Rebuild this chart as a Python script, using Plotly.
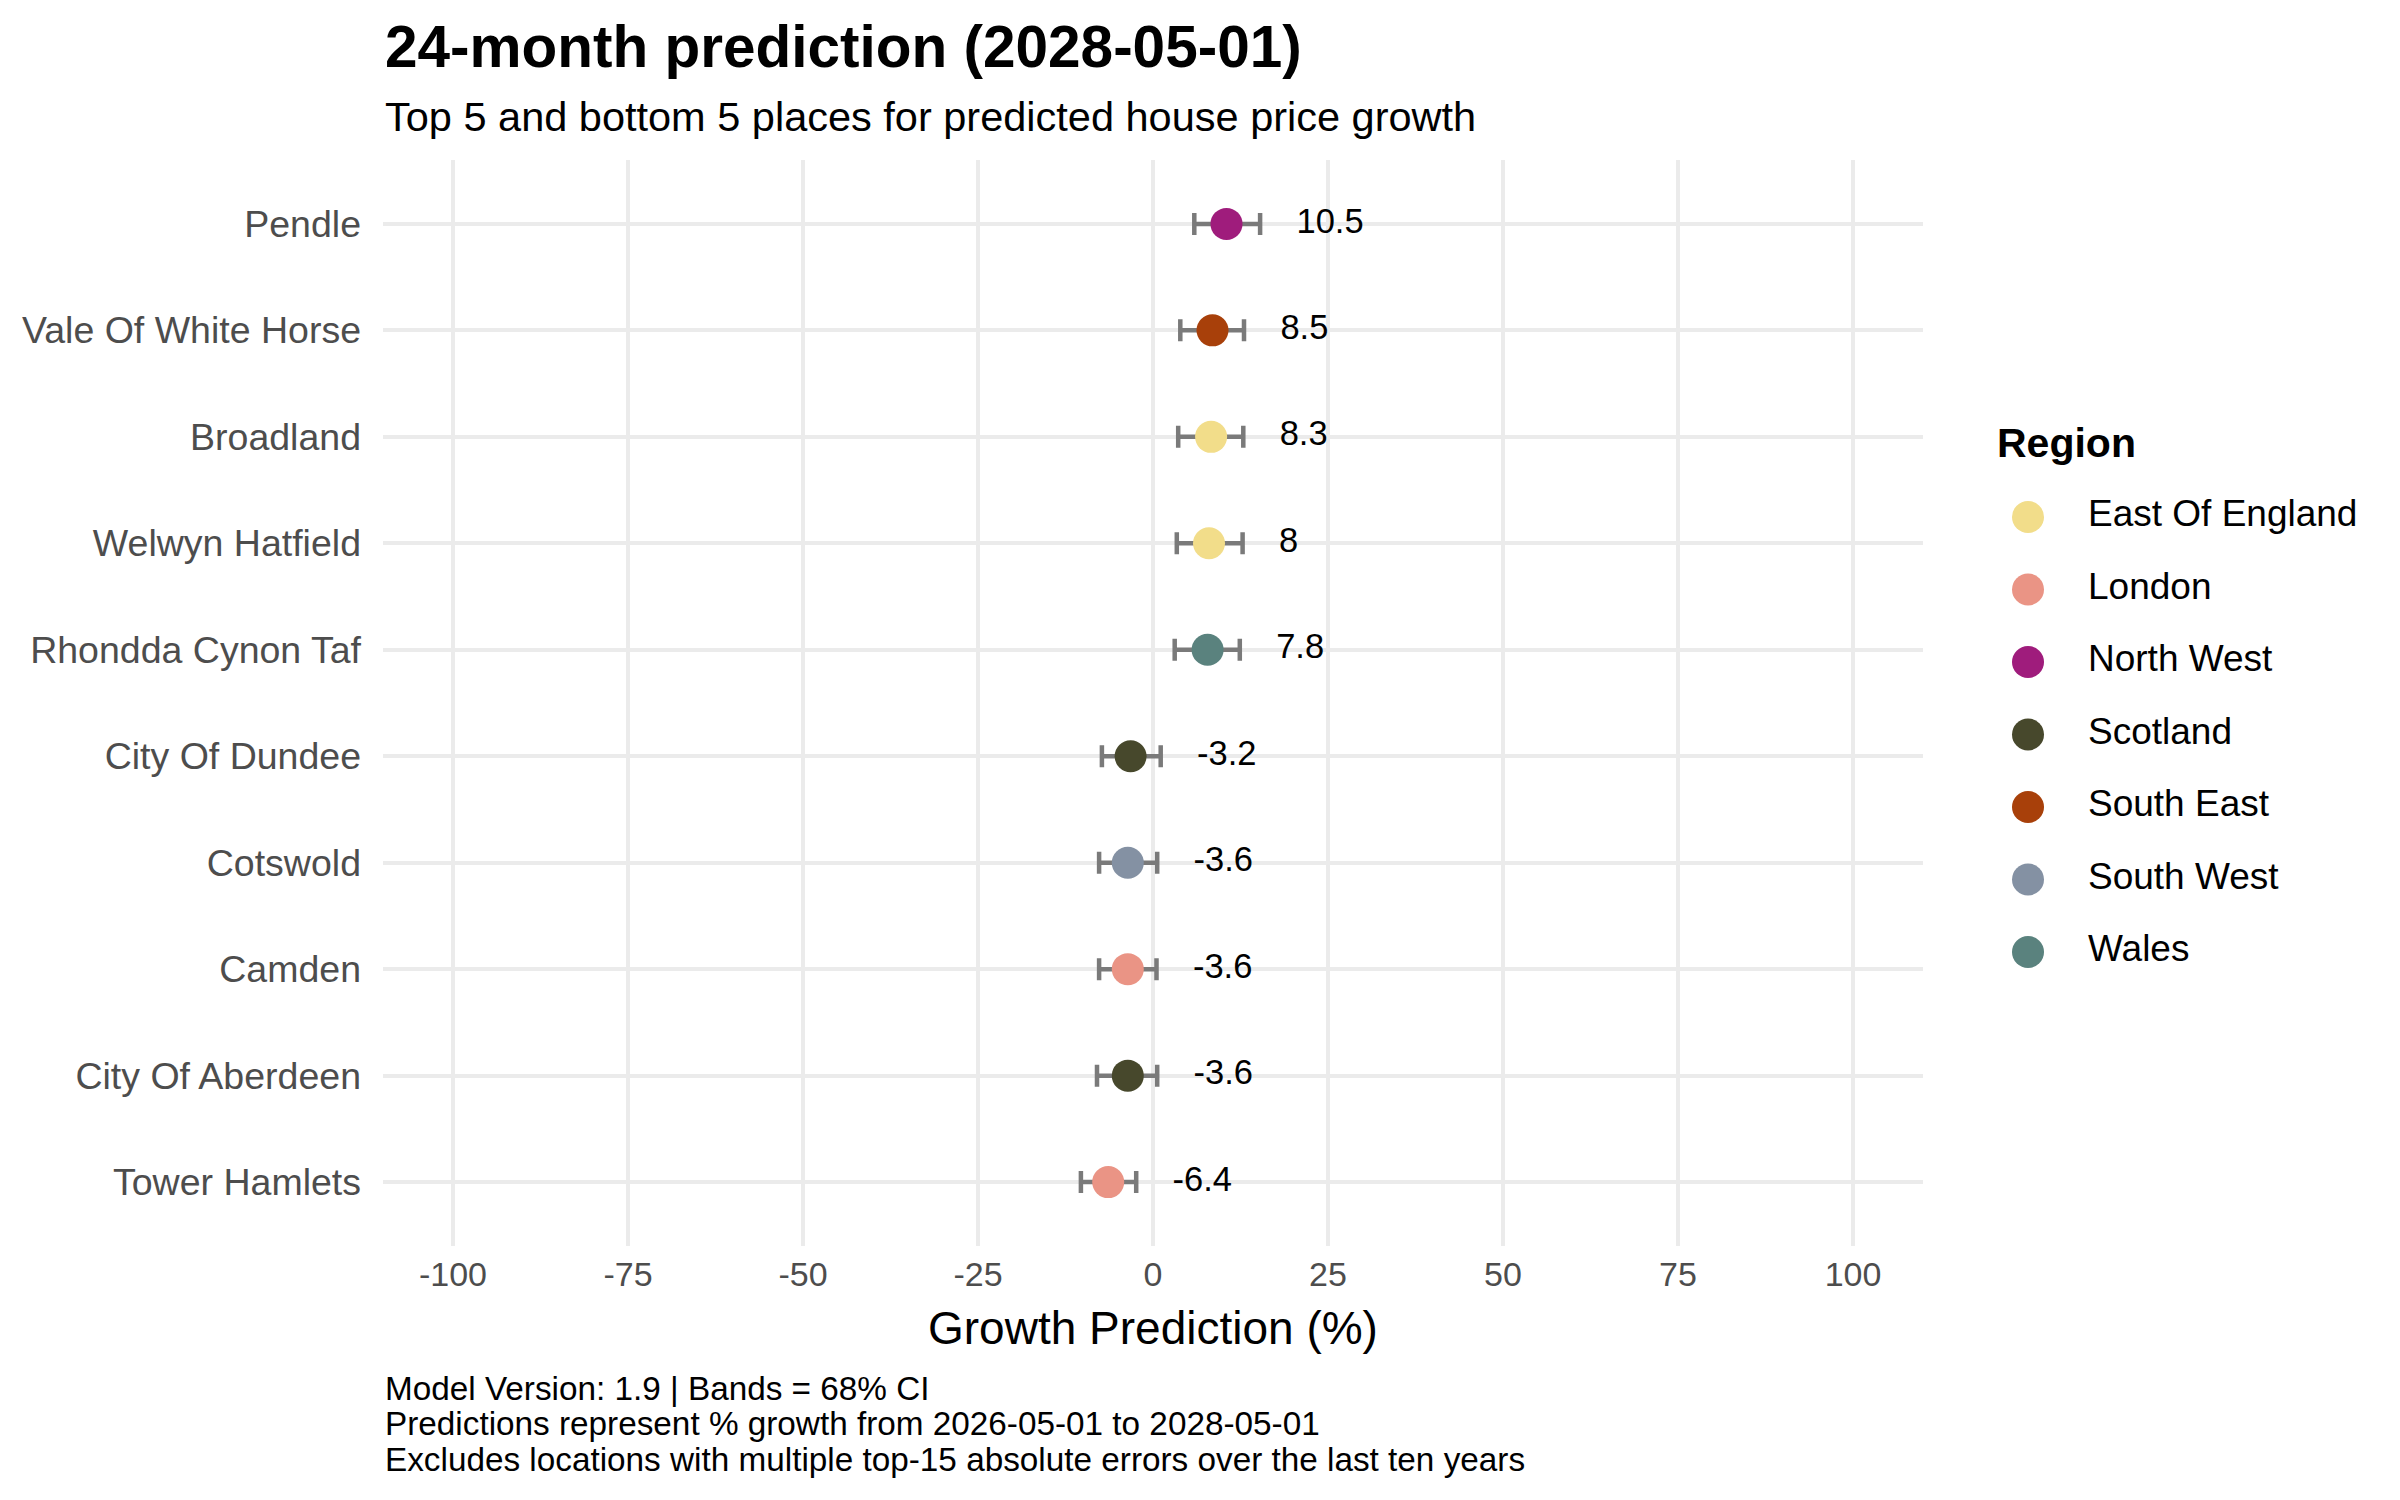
import plotly.graph_objects as go

# Data
places = ["Pendle", "Vale Of White Horse", "Broadland", "Welwyn Hatfield", "Rhondda Cynon Taf",
          "City Of Dundee", "Cotswold", "Camden", "City Of Aberdeen", "Tower Hamlets"]
regions = ["North West", "South East", "East Of England", "East Of England", "Wales",
           "Scotland", "South West", "London", "Scotland", "London"]
growth = [10.5, 8.5, 8.3, 8.0, 7.8, -3.2, -3.6, -3.6, -3.6, -6.4]
lower = [5.9, 3.9, 3.6, 3.4, 3.1, -7.3, -7.7, -7.7, -8.0, -10.3]
upper = [15.3, 13.0, 12.9, 12.8, 12.4, 1.1, 0.6, 0.5, 0.6, -2.4]

region_names = ["East Of England", "London", "North West", "Scotland", "South East", "South West", "Wales"]
region_colors = ["#F2DD8A", "#EA9485", "#9F1C7C", "#47482C", "#A8400A", "#8491A3", "#5A827E"]

x_ticks = [-100, -75, -50, -25, 0, 25, 50, 75, 100]

title = "24-month prediction (2028-05-01)"
subtitle = "Top 5 and bottom 5 places for predicted house price growth"
caption = ["Model Version: 1.9 | Bands = 68% CI",
           "Predictions represent % growth from 2026-05-01 to 2028-05-01",
           "Excludes locations with multiple top-15 absolute errors over the last ten years"]

# Page geometry (px); the page body adds an 8px margin, so shift everything by it
OFF = 8
W, H = 2400 - OFF, 1500 - OFF
L, R, T, B = 383 - OFF, 40, 160 - OFF, 254
PW = W - L - R
PH = H - T - B
FONT = "Liberation Sans, Arial, sans-serif"


def fx(px):
    return (px - OFF - L) / PW


def fy(py):
    return (H - B - (py - OFF)) / PH


color_of = dict(zip(region_names, region_colors))

fig = go.Figure()

# error bars (drawn first so the points sit on top)
fig.add_trace(go.Scatter(
    x=growth, y=places, mode="markers",
    marker=dict(size=1, color="rgba(0,0,0,0)"),
    error_x=dict(type="data", symmetric=False,
                 array=[u - g for u, g in zip(upper, growth)],
                 arrayminus=[g - lo for g, lo in zip(growth, lower)],
                 color="#7A7A7A", thickness=4.5, width=11),
    showlegend=False, hoverinfo="skip",
))

# points, one trace per region
for name in region_names:
    idx = [i for i, r in enumerate(regions) if r == name]
    fig.add_trace(go.Scatter(
        x=[growth[i] for i in idx], y=[places[i] for i in idx],
        mode="markers", name=name,
        marker=dict(size=32, color=color_of[name]),
        showlegend=False,
    ))

# value labels to the right of each band
fig.add_trace(go.Scatter(
    x=[u + 5.2 for u in upper], y=places, mode="text",
    text=[f"{g:g}" for g in growth], textposition="middle right",
    textfont=dict(family=FONT, size=34.5, color="black"),
    showlegend=False, hoverinfo="skip",
))

# hand-made legend on its own little axis (plotly caps legend marker size)
fig.add_trace(go.Scatter(
    x=[0] * len(region_names), y=list(range(len(region_names))),
    mode="markers", marker=dict(size=32, color=region_colors),
    xaxis="x2", yaxis="y2", showlegend=False, hoverinfo="skip",
))
fig.add_trace(go.Scatter(
    x=[1] * len(region_names), y=list(range(len(region_names))),
    mode="text", text=region_names, textposition="middle right",
    textfont=dict(family=FONT, size=37, color="black"),
    xaxis="x2", yaxis="y2", showlegend=False, hoverinfo="skip",
))

leg_x0 = 1990
leg_x1 = W - R + OFF
fig.update_layout(
    width=W, height=H,
    margin=dict(l=L, r=R, t=T, b=B),
    plot_bgcolor="white", paper_bgcolor="white",
    font=dict(family=FONT, color="black"),
    showlegend=False,
    xaxis=dict(
        domain=[0, 1540 / PW], range=[-110, 110],
        tickvals=x_ticks, ticktext=[str(v) for v in x_ticks],
        showgrid=True, gridcolor="#EBEBEB", gridwidth=4,
        zeroline=False, showline=False, ticks="",
        tickfont=dict(family=FONT, size=34, color="#4D4D4D"),
        ticklabelstandoff=5,
    ),
    yaxis=dict(
        categoryorder="array", categoryarray=places[::-1], range=[-0.6, 9.6],
        showgrid=True, gridcolor="#EBEBEB", gridwidth=4,
        zeroline=False, showline=False, ticks="",
        tickfont=dict(family=FONT, size=37.5, color="#4D4D4D"),
        ticklabelstandoff=21,
    ),
    xaxis2=dict(
        domain=[fx(leg_x0), 1.0], anchor="y2",
        range=[-(2028 - leg_x0) / 60, -(2028 - leg_x0) / 60 + (leg_x1 - leg_x0) / 60],
        visible=False, fixedrange=True,
    ),
    yaxis2=dict(
        domain=[0, 1], anchor="x2",
        range=[(1246 - 517) / 72.5, (160 - 517) / 72.5],
        visible=False, fixedrange=True,
    ),
)

annotations = [
    dict(text=f"<b>{title}</b>", x=fx(383), y=fy(47), font=dict(size=58.5, color="black")),
    dict(text=subtitle, x=fx(383), y=fy(116), font=dict(size=41.5, color="black")),
    dict(text="<b>Region</b>", x=fx(1995), y=fy(443), font=dict(size=41, color="black")),
]
for k, line in enumerate(caption):
    annotations.append(dict(text=line, x=fx(383), y=fy(1388 + 35.5 * k), font=dict(size=33.3, color="black")))
for a in annotations:
    a.update(xref="paper", yref="paper", xanchor="left", yanchor="middle", showarrow=False)
annotations.append(dict(
    text="Growth Prediction (%)", xref="paper", yref="paper",
    x=fx(1153), y=fy(1328), xanchor="center", yanchor="middle", showarrow=False,
    font=dict(size=46, color="black"),
))
for a in annotations:
    a["font"]["family"] = FONT
fig.update_layout(annotations=annotations)

fig.write_html("out.html")
